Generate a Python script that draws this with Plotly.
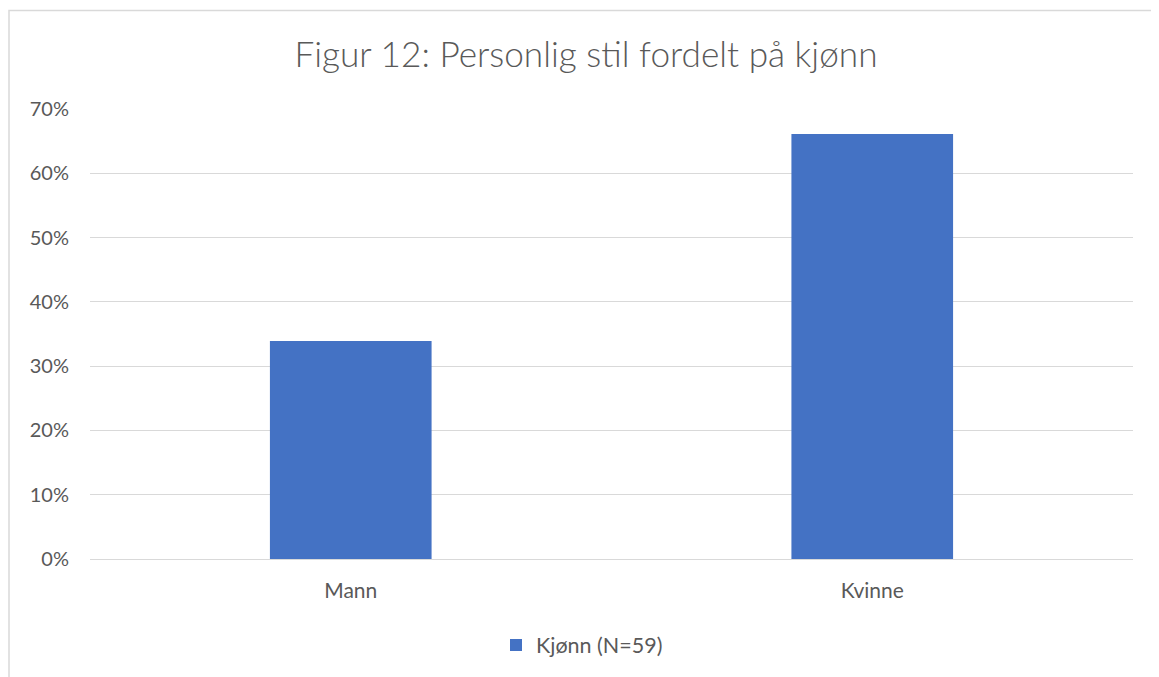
import plotly.graph_objects as go

categories = ["Mann", "Kvinne"]
values = [0.339, 0.661]
series_name = "Kjønn (N=59)"
title_text = "Figur 12: Personlig stil fordelt på kjønn"
tick_vals = [0, 0.1, 0.2, 0.3, 0.4, 0.5, 0.6, 0.7]

FONT = "Lato"
GREY = "#595959"

# page body has an 8px margin; the figure is sized/positioned to compensate
W, H = 1151, 669
L, R, T, B = 82, 26, 101, 118
PW, PH = W - L - R, H - T - B

fig = go.Figure()
fig.add_trace(go.Bar(
    x=categories, y=values, name=series_name,
    marker=dict(color="#4472C4", line=dict(width=0)),
    width=0.31, showlegend=True,
))

fig.update_layout(
    width=W, height=H,
    margin=dict(l=L, r=R, t=T, b=B),
    paper_bgcolor="white", plot_bgcolor="white",
    font=dict(family=FONT, color=GREY, size=20),
    title=dict(text=title_text, x=(586 - 8) / W, xanchor="center", y=1 - 47 / H, yanchor="middle",
               font=dict(family=FONT, size=35.2, color=GREY, weight=300)),
    showlegend=True,
    legend=dict(orientation="h", x=(582 - 8 - L) / PW, xanchor="center",
                y=(551 - 637) / PH, yanchor="middle",
                font=dict(size=21.5, color=GREY), itemwidth=30),
)
fig.update_yaxes(range=[0, 0.7], tickvals=tick_vals, tickformat=".0%",
                 showgrid=True, gridcolor="#D9D9D9", gridwidth=1,
                 zeroline=False, showline=False, ticks="", ticklabelstandoff=20,
                 tickfont=dict(size=20, color=GREY))
fig.update_xaxes(showline=True, linecolor="#D9D9D9", linewidth=1, ticks="",
                 ticklabelstandoff=13, tickfont=dict(size=21, color=GREY))

# chart frame (partially outside the view as in the reference)
fig.add_shape(type="rect", xref="paper", yref="paper",
              x0=(1 - L) / PW, x1=(1170 - L) / PW,
              y0=(551 - 700) / PH, y1=(551 - 2.5) / PH,
              line=dict(color="#D9D9D9", width=1.5), fillcolor="rgba(0,0,0,0)", layer="below")

fig.write_html("out.html")
